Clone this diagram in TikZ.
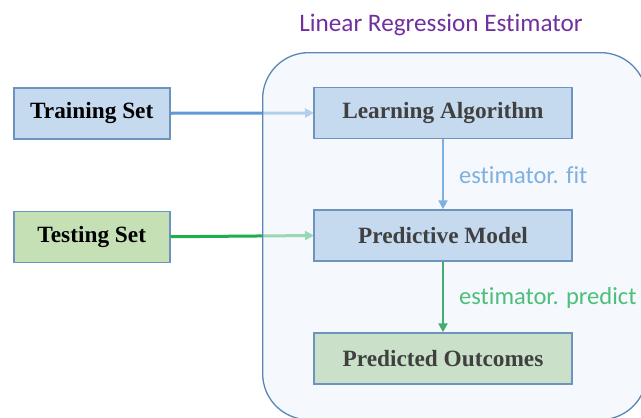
\documentclass[tikz,border=0pt]{standalone}
\usepackage{fontspec}
\setmainfont{Liberation Serif}
\newfontfamily\labelfont[Ligatures={NoCommon}]{Carlito}
\usetikzlibrary{arrows.meta}
\definecolor{boxblue}{HTML}{C5D9EF}
\definecolor{boxborder}{HTML}{6D93BF}
\definecolor{boxgreen}{HTML}{C5E0B4}
\definecolor{outgreen}{HTML}{CAE0C9}
\definecolor{contfill}{HTML}{EEF3FB}
\definecolor{contborder}{HTML}{5A86B5}
\definecolor{titlepurple}{HTML}{7030A0}
\definecolor{fitblue}{HTML}{7FB0DF}
\definecolor{predgreen}{HTML}{4CC07A}
\definecolor{trainarrow}{HTML}{5E9AD3}
\definecolor{testarrow}{HTML}{1DAE4E}
\definecolor{darktext}{HTML}{404040}
\tikzset{
  stepbox/.style={draw=boxborder, line width=1.5pt, minimum width=156pt, minimum height=51pt, inner sep=0pt,
    font=\fontsize{23.3}{26}\selectfont\bfseries},
  innerbox/.style={stepbox, minimum width=258pt, text=darktext},
  arr/.style={line width=3pt, -{Triangle[length=9pt,width=9pt]}},
  lbl/.style={font=\labelfont\fontsize{24.5}{28}\selectfont, anchor=west, inner sep=0pt}
}
\begin{document}
\begin{tikzpicture}[x=1pt,y=-1pt]
\useasboundingbox (0,0) rectangle (641,418);
% outer boxes
\node[stepbox, fill=boxblue, anchor=north west] (train) at (13,87) {Training Set};
\node[stepbox, fill=boxgreen, anchor=north west] (test) at (13,210.5) {Testing Set};
% arrows from outside
\draw[arr, draw=trainarrow, fill=trainarrow] (train.east) -- (314,113) coordinate (law);
\draw[arr, draw=testarrow, fill=testarrow] (test.east) -- (314,235.5) coordinate (pmw);
% container
\node[draw=contborder, line width=1.3pt, fill=contfill, fill opacity=0.6, rounded corners=46pt,
  minimum width=384pt, minimum height=367pt, anchor=north west] (cont) at (262,52) {};
\node[font=\labelfont\fontsize{25.2}{29}\selectfont, text=titlepurple] (title) at (441,25) {Linear Regression Estimator};
% inner boxes
\node[innerbox, fill=boxblue] (learn) at (443,113) {Learning Algorithm};
\node[innerbox, fill=boxblue] (model) at (443,235.5) {Predictive Model};
\node[innerbox, fill=outgreen] (out) at (443,358.5) {Predicted Outcomes};
\draw[arr, line width=2.5pt, draw=fitblue, fill=fitblue] (learn) -- (model);
\draw[arr, line width=2.5pt, draw=predgreen!90!black, fill=predgreen!90!black] (model) -- (out);
\node[lbl, text=fitblue] (fit) at (459,175) {estimator. fit};
\node[lbl, text=predgreen] (pred) at (459,298) {estimator. predict};
\end{tikzpicture}
\end{document}
